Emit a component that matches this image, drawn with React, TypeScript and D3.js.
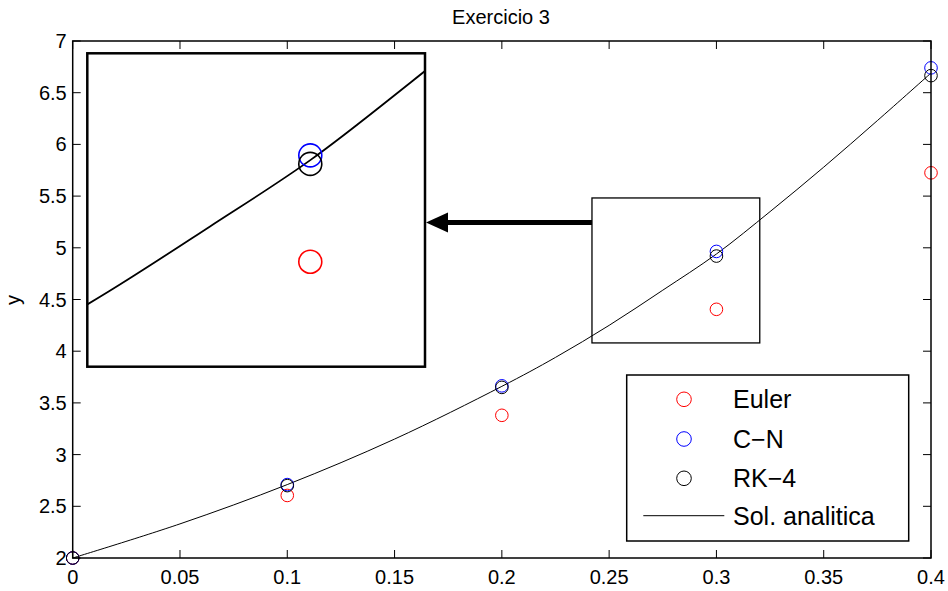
import React, { useEffect, useRef } from "react";
import * as d3 from "d3";

// step values (t)
const tSteps = [0, 0.1, 0.2, 0.3, 0.4];
const euler = [2, 2.605, 3.38, 4.405, 5.725];
const crankNicolson = [2, 2.71, 3.665, 4.965, 6.74];
const rk4 = [2, 2.70, 3.65, 4.92, 6.665];

// analytic solution
const solX = [0, 0.05, 0.1, 0.15, 0.2, 0.225, 0.25, 0.275, 0.3, 0.325, 0.35, 0.375, 0.4];
const solY = [2, 2.33, 2.71, 3.15, 3.66, 3.94, 4.25, 4.59, 4.94, 5.35, 5.78, 6.23, 6.69];

const xTicks = [0, 0.05, 0.1, 0.15, 0.2, 0.25, 0.3, 0.35, 0.4];
const yTicks = [2, 2.5, 3, 3.5, 4, 4.5, 5, 5.5, 6, 6.5, 7];

// zoomed region
const zoomX = [0.242, 0.3202];
const zoomY = [4.08, 5.482];
const insetX = [0.2446, 0.3285];
const insetY = [3.853, 5.502];

const legendNames = ["Euler", "C\u2212N", "RK\u22124", "Sol. analitica"];
const colors = ["#ff0000", "#0000ff", "#000000", "#000000"];

const font = "'Liberation Sans', Arial, Helvetica, sans-serif";

export default function App() {
    const ref = useRef<SVGSVGElement>(null);

    useEffect(() => {
        const svg = d3.select(ref.current);
        svg.selectAll("*").remove();

        const width = 948;
        const height = 591;
        const left = 72.7, right = 931, top = 41, bottom = 558;

        const x = d3.scaleLinear().domain([0, 0.4]).range([left, right]);
        const y = d3.scaleLinear().domain([2, 7]).range([bottom, top]);

        svg.attr("width", width).attr("height", height);
        svg.append("rect").attr("width", width).attr("height", height).attr("fill", "#fff");

        const series = [euler, crankNicolson, rk4];
        const sol = solX.map((v, i) => [v, solY[i]] as [number, number]);

        // analytic line
        const line = d3.line<[number, number]>()
            .x(d => x(d[0]))
            .y(d => y(d[1]))
            .curve(d3.curveCatmullRom);
        svg.append("path")
            .attr("d", line(sol))
            .attr("fill", "none")
            .attr("stroke", "#000")
            .attr("stroke-width", 1);

        // markers
        series.forEach((s, k) => {
            svg.append("g").selectAll("circle")
                .data(s)
                .enter()
                .append("circle")
                .attr("cx", (d, i) => x(tSteps[i]))
                .attr("cy", d => y(d))
                .attr("r", 6.3)
                .attr("fill", "none")
                .attr("stroke", colors[k])
                .attr("stroke-width", 1);
        });

        // axes box + ticks
        const ax = svg.append("g").attr("stroke", "#000").attr("stroke-width", 1.5);
        ax.append("rect")
            .attr("x", left).attr("y", top)
            .attr("width", right - left).attr("height", bottom - top)
            .attr("fill", "none");
        xTicks.forEach(t => {
            ax.append("line").attr("x1", x(t)).attr("x2", x(t)).attr("y1", bottom).attr("y2", bottom - 8).attr("stroke-width", 1);
            ax.append("line").attr("x1", x(t)).attr("x2", x(t)).attr("y1", top).attr("y2", top + 8).attr("stroke-width", 1);
        });
        yTicks.forEach(t => {
            ax.append("line").attr("x1", left).attr("x2", left + 8).attr("y1", y(t)).attr("y2", y(t)).attr("stroke-width", 1);
            ax.append("line").attr("x1", right).attr("x2", right - 8).attr("y1", y(t)).attr("y2", y(t)).attr("stroke-width", 1);
        });

        const labels = svg.append("g").attr("font-family", font).attr("font-size", 20).attr("fill", "#000");
        xTicks.forEach(t => {
            labels.append("text")
                .attr("x", x(t)).attr("y", bottom + 26)
                .attr("text-anchor", "middle")
                .text(d3.format("~g")(t));
        });
        yTicks.forEach(t => {
            labels.append("text")
                .attr("x", left - 6).attr("y", y(t) + 7)
                .attr("text-anchor", "end")
                .text(d3.format("~g")(t));
        });
        labels.append("text")
            .attr("transform", "translate(20," + 300 + ") rotate(-90)")
            .attr("text-anchor", "middle")
            .text("y");
        labels.append("text")
            .attr("x", 501).attr("y", 24)
            .attr("text-anchor", "middle")
            .attr("font-size", 20)
            .text("Exercicio 3");

        // zoom rectangle
        svg.append("rect")
            .attr("x", x(zoomX[0])).attr("y", y(zoomY[1]))
            .attr("width", x(zoomX[1]) - x(zoomX[0]))
            .attr("height", y(zoomY[0]) - y(zoomY[1]))
            .attr("fill", "none")
            .attr("stroke", "#000")
            .attr("stroke-width", 1.3);

        // arrow
        const ay = 222.5;
        svg.append("line")
            .attr("x1", x(zoomX[0])).attr("x2", 444)
            .attr("y1", ay).attr("y2", ay)
            .attr("stroke", "#000").attr("stroke-width", 5);
        svg.append("path")
            .attr("d", "M426," + ay + " L448," + (ay - 10) + " L448," + (ay + 10) + " Z")
            .attr("fill", "#000");

        // inset
        const ix0 = 87.3, ix1 = 425, iy0 = 53.3, iy1 = 366.7;
        const ix = d3.scaleLinear().domain(insetX).range([ix0, ix1]);
        const iy = d3.scaleLinear().domain(insetY).range([iy1, iy0]);

        svg.append("clipPath").attr("id", "insetClip")
            .append("rect").attr("x", ix0).attr("y", iy0).attr("width", ix1 - ix0).attr("height", iy1 - iy0);
        svg.append("rect")
            .attr("x", ix0).attr("y", iy0).attr("width", ix1 - ix0).attr("height", iy1 - iy0)
            .attr("fill", "#fff");
        const inset = svg.append("g").attr("clip-path", "url(#insetClip)");
        const iline = d3.line<[number, number]>()
            .x(d => ix(d[0]))
            .y(d => iy(d[1]))
            .curve(d3.curveCatmullRom);
        inset.append("path")
            .attr("d", iline(sol))
            .attr("fill", "none")
            .attr("stroke", "#000")
            .attr("stroke-width", 1.8);
        series.forEach((s, k) => {
            inset.append("g").selectAll("circle")
                .data(s)
                .enter()
                .append("circle")
                .attr("cx", (d, i) => ix(tSteps[i]))
                .attr("cy", d => iy(d))
                .attr("r", 11.5)
                .attr("fill", "none")
                .attr("stroke", colors[k])
                .attr("stroke-width", 1.6);
        });
        svg.append("rect")
            .attr("x", ix0).attr("y", iy0).attr("width", ix1 - ix0).attr("height", iy1 - iy0)
            .attr("fill", "none")
            .attr("stroke", "#000")
            .attr("stroke-width", 2.5);

        // legend
        const legend = svg.append("g");
        legend.append("rect")
            .attr("x", 626.7).attr("y", 375)
            .attr("width", 282).attr("height", 166)
            .attr("fill", "#fff")
            .attr("stroke", "#000")
            .attr("stroke-width", 1.5);
        const rows = [399.3, 439, 478.3, 515.7];
        legendNames.forEach((name, i) => {
            if (i < 3) {
                legend.append("circle")
                    .attr("cx", 684).attr("cy", rows[i]).attr("r", 7.3)
                    .attr("fill", "none")
                    .attr("stroke", colors[i])
                    .attr("stroke-width", 1);
            } else {
                legend.append("line")
                    .attr("x1", 643.3).attr("x2", 724.3)
                    .attr("y1", rows[i]).attr("y2", rows[i])
                    .attr("stroke", "#000").attr("stroke-width", 1);
            }
            legend.append("text")
                .attr("x", 733).attr("y", rows[i] + 9)
                .attr("font-family", font)
                .attr("font-size", 25)
                .text(name);
        });
    }, []);

    return (
        <div className="chart">
            <svg ref={ref} style={{ position: "absolute", left: 0, top: 0 }}></svg>
        </div>
    );
}
